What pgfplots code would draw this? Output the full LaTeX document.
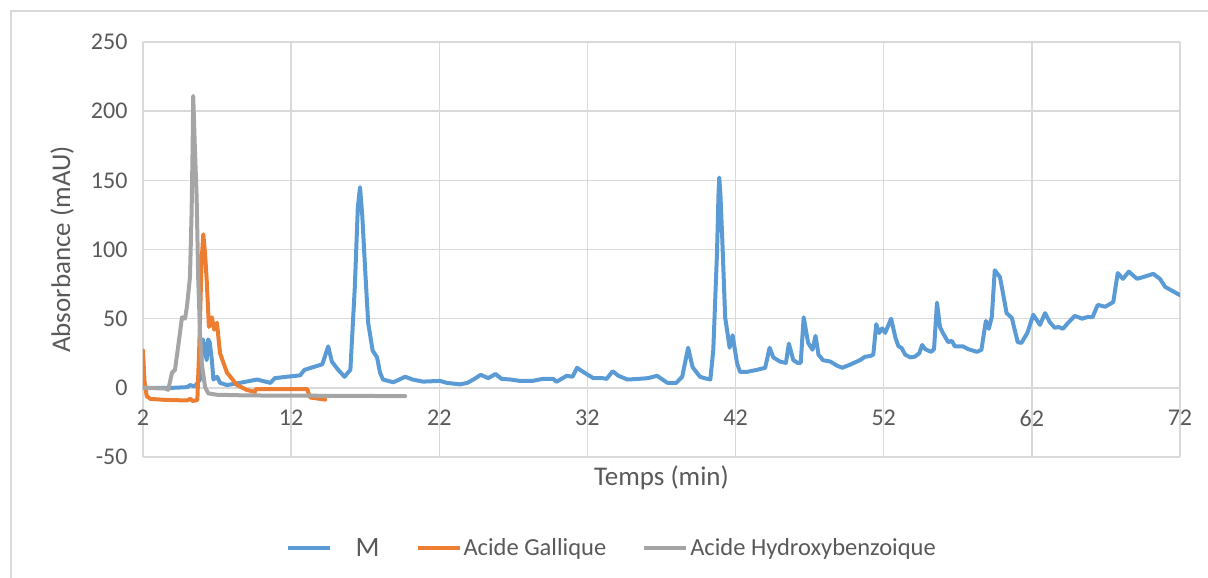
\documentclass[border=0pt]{standalone}
\usepackage{pgfplots}
\pgfplotsset{compat=1.18}
\usepackage{fontspec}
\setmainfont{Carlito}
\definecolor{serM}{HTML}{5B9BD5}
\definecolor{serG}{HTML}{ED7D31}
\definecolor{serH}{HTML}{A5A5A5}
\definecolor{gridc}{HTML}{D9D9D9}
\definecolor{txt}{HTML}{595959}

\begin{document}
\begin{tikzpicture}[x=1pt,y=1pt]
\useasboundingbox (0,0) rectangle (1208,578);
% chart frame
\draw[gridc, line width=2pt] (11,0) -- (11,567) -- (1208,567);
\begin{axis}[
  at={(143pt,121pt)}, anchor=south west,
  scale only axis, width=1037pt, height=415pt,
  xmin=2, xmax=72, ymin=-50, ymax=250,
  xtick={2,12,22,32,42,52,62,72},
  ytick={-50,0,50,100,150,200,250},
  xticklabels={2,12,22,32,42,52,62,72},
  yticklabels={-50,0,50,100,150,200,250},
  grid=major, grid style={gridc, line width=1.5pt},
  axis line style={draw=none},
  major tick length=0pt,
  font=\fontsize{24}{29}\selectfont,
  every tick label/.append style={text=txt},
  xticklabel style={anchor=north, yshift=69.17pt-19pt},
  yticklabel style={anchor=east, xshift=-12pt},
  xlabel={Temps (min)}, ylabel={Absorbance (mAU)},
  every axis x label/.style={at={(axis description cs:0.5,-0.0506)}, anchor=center, text=txt, font=\fontsize{27}{32}\selectfont},
  every axis y label/.style={at={(axis description cs:-0.0781,0.5)}, anchor=center, rotate=90, text=txt, font=\fontsize{27}{32}\selectfont},
  legend columns=3,
  legend style={at={(axis description cs:0.452,-0.219)}, anchor=center, draw=none, fill=none,
    text=txt, font=\fontsize{24.5}{29}\selectfont,
    /tikz/every even column/.append style={column sep=34pt}},
  legend image code/.code={\draw[#1, line width=4pt, line cap=butt] (0pt,0pt) -- (42pt,0pt);},
  every axis plot/.append style={line width=4pt, line join=round, line cap=round, mark=none},
]
% M
\addplot[serM] coordinates {
(2,0) (3,0) (4,0) (5,0.5) (5.17,2) (5.5,1) (5.85,6) (6.05,35) (6.3,20) (6.4,35) (6.5,33) (6.65,20) (6.75,6) (7.0,8) (7.2,3.6) (7.67,2) (8.55,3.6) (9.7,6) (10.6,3.6) (10.9,7) (11.7,8) (12.6,9) (12.9,13) (13.5,15) (14.1,17) (14.2,20) (14.5,30) (14.75,19) (15.1,14) (15.6,8) (16.0,13) (16.3,73) (16.5,130) (16.65,145) (16.8,125) (17.0,85) (17.2,47) (17.5,27) (17.8,22) (18.0,11) (18.2,6) (18.9,4) (19.7,8) (20.2,6) (20.9,4.5) (22.05,5) (22.5,3.6) (23.4,2.5) (23.9,3.6) (24.3,6) (24.8,9.4) (25.3,7) (25.8,10) (26.2,6.5) (26.8,6) (27.45,5) (28.3,5) (29.0,6.5) (29.7,6.5) (29.9,4.3) (30.6,8.7) (31.0,8) (31.3,14.5) (31.7,11.6) (32.4,7) (33.0,7) (33.3,6.5) (33.7,12) (34.1,8.7) (34.7,6) (35.5,6.5) (36.1,7) (36.7,8.7) (37.4,3.6) (38.0,3.6) (38.4,8) (38.8,29) (39.1,15) (39.6,8) (39.9,7) (40.3,6) (40.5,27.5) (40.75,98) (40.85,140) (40.9,152) (40.98,140) (41.1,109) (41.3,51) (41.6,29) (41.8,38) (42.1,18) (42.3,11.6) (42.8,11.6) (43.45,13) (44.0,14.5) (44.3,29) (44.55,22) (45.0,19) (45.4,18) (45.6,32) (45.9,20) (46.2,18) (46.4,18) (46.6,51) (46.9,32.5) (47.2,27.5) (47.4,37.6) (47.6,24) (47.9,20) (48.4,19) (48.85,16) (49.2,14.5) (49.7,16.6) (50.4,20) (50.75,22.5) (51.1,23) (51.3,24) (51.5,46) (51.7,39.7) (51.9,43) (52.1,39.7) (52.5,50) (52.8,36) (53.0,30) (53.2,29) (53.45,24) (53.8,22) (54.1,22.5) (54.4,25) (54.6,31) (54.8,28) (55.2,26) (55.4,28) (55.6,61.5) (55.8,44) (56.0,39.7) (56.35,33) (56.6,34) (56.8,30) (57.35,30) (57.7,28) (58.3,26) (58.6,27.5) (58.9,48.4) (59.1,42.7) (59.3,51.3) (59.5,85) (59.85,80) (60.05,68.7) (60.3,54) (60.65,50.6) (61.05,33) (61.3,32.5) (61.7,39.7) (62.1,52.8) (62.55,45.5) (62.9,54) (63.2,47.7) (63.55,43.4) (63.8,44) (64.1,42.7) (64.45,47) (64.9,52) (65.4,50) (65.8,51.3) (66.1,51) (66.45,60) (66.95,58.6) (67.5,62) (67.8,83) (68.15,78.8) (68.55,84) (69.1,78.8) (69.5,80) (70.2,82.4) (70.65,78.8) (71.0,73) (71.5,70) (72.0,67)
};
\addlegendentry{\hspace{22pt}{\fontsize{28}{32}\selectfont M}\hspace{20pt}}
% Acide Gallique
\addplot[serG] coordinates {
(2,27) (2.1,5) (2.25,-6) (2.5,-8) (3.5,-8.7) (4.5,-9) (5.0,-9) (5.2,-8) (5.35,-9.5) (5.6,-9) (5.67,-8.6) (5.8,30) (5.95,90) (6.07,111) (6.19,97) (6.3,78) (6.45,44) (6.65,51) (6.8,42) (6.99,47) (7.2,25) (7.67,11) (8.35,2) (9.0,-1.5) (9.56,-3) (9.6,-1) (13.1,-1) (13.2,-5) (13.3,-7) (14.3,-8.5)
};
\addlegendentry{Acide Gallique}
% Acide Hydroxybenzoique
\addplot[serH] coordinates {
(2,0) (3.5,-0.5) (3.7,-1.5) (3.96,11) (4.16,13) (4.5,40) (4.63,51) (4.84,50) (4.97,59) (5.17,80) (5.28,126) (5.35,174) (5.39,211) (5.5,174) (5.62,138) (5.73,78) (5.85,40) (5.96,18) (6.19,0.7) (6.4,-4) (6.99,-5) (9,-5.5) (19.7,-6)
};
\addlegendentry{Acide Hydroxybenzoique}
\end{axis}
\end{tikzpicture}
\end{document}
